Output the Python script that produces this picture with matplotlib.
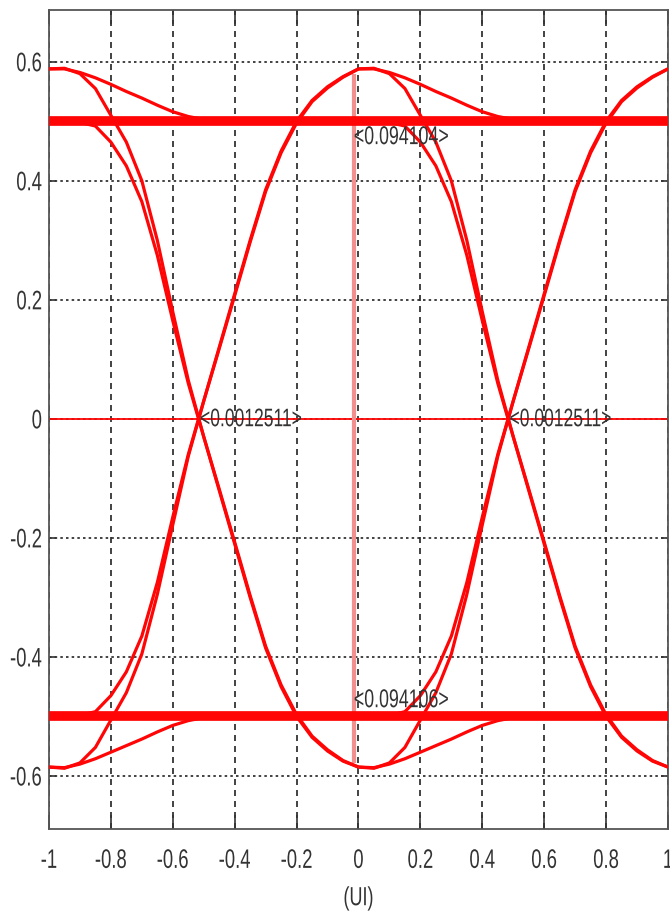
import matplotlib
matplotlib.use("Agg")
import matplotlib.pyplot as plt
from matplotlib.patheffects import AbstractPathEffect
from matplotlib.transforms import Affine2D

plt.rcParams['font.family'] = ['Liberation Sans', 'DejaVu Sans']


class TallText(AbstractPathEffect):
    """Draw glyphs stretched vertically about the middle of the cap height."""

    def __init__(self, sy=1.45):
        super().__init__()
        self.sy = sy

    def draw_path(self, renderer, gc, tpath, affine, rgbFace=None):
        px, py = affine.transform((0, 36))
        stretch = Affine2D().translate(-px, -py).scale(1, self.sy).translate(px, py)
        renderer.draw_path(gc, tpath, affine + stretch, rgbFace)


# position inside one unit interval, used for both halves of the 2-UI window
ui_pos = [0.00, 0.05, 0.10, 0.15, 0.20, 0.25, 0.30, 0.35, 0.40, 0.45, 0.50,
          0.55, 0.60, 0.65, 0.70, 0.75, 0.80, 0.85, 0.90, 0.95, 1.00]
ui_start = [-1.0, 0.0]

# high -> low after a previous transition (starts on the overshoot)
fall_from_peak = [0.588, 0.589, 0.580, 0.555, 0.510, 0.465, 0.400, 0.300, 0.180, 0.065, -0.030,
                  -0.120, -0.210, -0.300, -0.385, -0.450, -0.500, -0.535, -0.558, -0.575, -0.585]
# high -> low from a settled level
fall_from_level = [0.500, 0.500, 0.498, 0.492, 0.465, 0.425, 0.365, 0.275, 0.165, 0.060, -0.030,
                   -0.118, -0.207, -0.297, -0.382, -0.447, -0.497, -0.533, -0.556, -0.574, -0.585]
# overshoot relaxing back to the high level
settle_high = [0.588, 0.588, 0.582, 0.573, 0.562, 0.550, 0.539, 0.527, 0.516, 0.508, 0.503,
               0.500, 0.500, 0.500, 0.500, 0.500, 0.500, 0.500, 0.500, 0.500, 0.500]

# low -> high after a previous transition (starts on the undershoot)
rise_from_trough = [-0.585, -0.587, -0.578, -0.552, -0.506, -0.460, -0.395, -0.295, -0.178, -0.063, 0.030,
                    0.120, 0.210, 0.300, 0.385, 0.450, 0.500, 0.535, 0.558, 0.575, 0.588]
# low -> high from a settled level
rise_from_level = [-0.500, -0.500, -0.498, -0.492, -0.465, -0.425, -0.365, -0.275, -0.165, -0.060, 0.030,
                   0.118, 0.207, 0.297, 0.382, 0.447, 0.497, 0.533, 0.556, 0.574, 0.588]
# undershoot relaxing back to the low level
settle_low = [-0.585, -0.586, -0.580, -0.571, -0.560, -0.549, -0.538, -0.526, -0.515, -0.507, -0.502,
              -0.500, -0.500, -0.500, -0.500, -0.500, -0.500, -0.500, -0.500, -0.500, -0.500]

steady_x = [-1.0, 1.0]
steady_high = [0.5, 0.5]
steady_low = [-0.5, -0.5]

# measurement markers
eye_center = -0.015
eye_span = [-0.578, 0.580]
crossings = [-0.517, 0.483]
height_labels = ["<0.094104>", "<0.094106>"]
height_label_y = [0.474, -0.472]
cross_label = "<0.0012511>"

xticks = [-1, -0.8, -0.6, -0.4, -0.2, 0, 0.2, 0.4, 0.6, 0.8, 1]
xticklabels = ["-1", "-0.8", "-0.6", "-0.4", "-0.2", "0", "0.2", "0.4", "0.6", "0.8", "1"]
yticks = [-0.6, -0.4, -0.2, 0, 0.2, 0.4, 0.6]
yticklabels = ["-0.6", "-0.4", "-0.2", "0", "0.2", "0.4", "0.6"]

fig = plt.figure(figsize=(6.7, 9.22), dpi=100)
ax = fig.add_axes([0.0731, 0.1009, 0.9239, 0.8883])

red = "#ff0505"
text_col = "#333333"
tall = [TallText(1.45)]

traces = [fall_from_peak, fall_from_level, settle_high,
          rise_from_trough, rise_from_level, settle_low]
for start in ui_start:
    xs = [start + u for u in ui_pos]
    for ys in traces:
        ax.plot(xs, ys, color=red, lw=2.3, zorder=3, solid_capstyle="butt")

ax.plot(steady_x, steady_high, color=red, lw=7, zorder=3, solid_capstyle="butt")
ax.plot(steady_x, steady_low, color=red, lw=7, zorder=3, solid_capstyle="butt")

# marker lines
ax.axhline(0, color=red, lw=1.3, zorder=2)
ax.plot([eye_center, eye_center], eye_span, color="#f29090", lw=3, zorder=2, solid_capstyle="butt")

for txt, yv in zip(height_labels, height_label_y):
    ax.text(eye_center, yv, txt, ha="left", va="center", fontsize=12.8,
            color=text_col, zorder=5, path_effects=tall)
for xc in crossings:
    ax.text(xc + 0.005, 0.0, cross_label, ha="left", va="center", fontsize=12.6,
            color=text_col, zorder=5, path_effects=tall)

ax.set_xlim(-1, 1)
ax.set_ylim(-0.689, 0.687)
ax.set_xticks(xticks)
ax.set_xticklabels(xticklabels)
ax.set_yticks(yticks)
ax.set_yticklabels(yticklabels)
ax.tick_params(axis="both", labelsize=13.3, colors=text_col, direction="in",
               top=True, right=True, width=1.2)
ax.tick_params(axis="x", length=10, pad=16.5)
ax.tick_params(axis="y", length=5, pad=5)
for lbl in ax.get_xticklabels() + ax.get_yticklabels():
    lbl.set_path_effects(tall)

ax.set_xlabel("(UI)", fontsize=13, color=text_col, va="center", path_effects=tall)
ax.xaxis.set_label_coords(0.5, -0.084)

ax.xaxis.grid(True, color="#222222", lw=1.2, linestyle=(0, (3.6, 3.0)), zorder=1)
ax.yaxis.grid(True, color="#222222", lw=1.2, linestyle=(0, (1.5, 1.9)), zorder=1)
ax.set_axisbelow(True)
for sp in ax.spines.values():
    sp.set_color("#555555")
    sp.set_linewidth(1.3)

fig.savefig("out.png", dpi=100)
